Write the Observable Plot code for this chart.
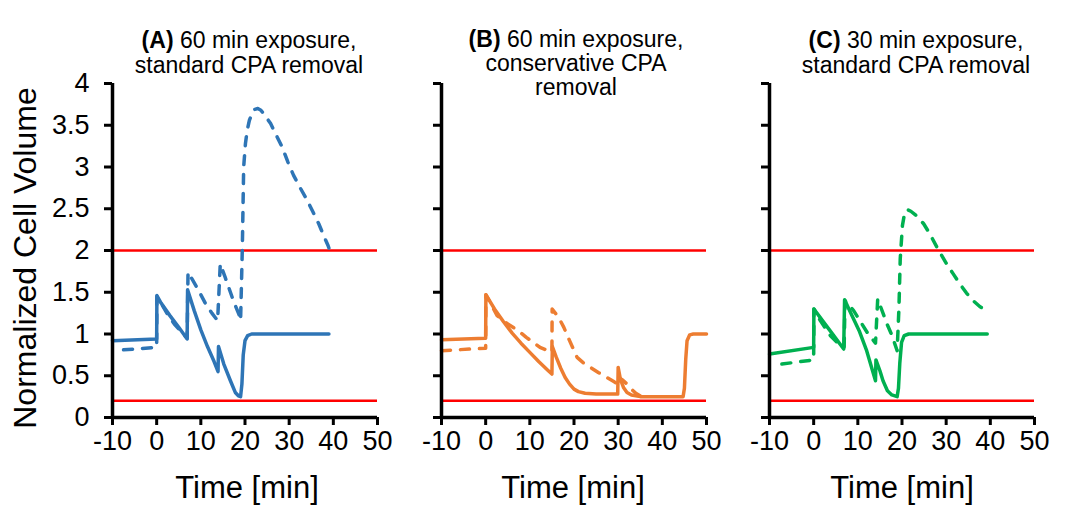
<!DOCTYPE html>
<html>
<head>
<meta charset="utf-8">
<script src="https://cdn.jsdelivr.net/npm/d3@7"></script>
<script src="https://cdn.jsdelivr.net/npm/@observablehq/plot@0.6"></script>
<style>
  html, body { margin: 0; padding: 0; background: #fff; }
  #wrap { position: relative; width: 1065px; height: 508px; overflow: hidden; font-family: "Liberation Sans", Arial, sans-serif; color: #000; }
  .panel { position: absolute; top: 0; }
  .title { position: absolute; width: 300px; text-align: center; font-size: 23px; line-height: 25px; white-space: nowrap; }
  .xlab { position: absolute; width: 240px; text-align: center; font-size: 31px; line-height: 36px; top: 470px; white-space: nowrap; }
  .ylab { position: absolute; width: 400px; height: 36px; line-height: 36px; font-size: 32px; text-align: center; left: -175px; top: 240px; transform: rotate(-90deg); white-space: nowrap; }
</style>
</head>
<body>
<div id="wrap"></div>
<script>
// ---- data ----
const xTicks = [-10, 0, 10, 20, 30, 40, 50];
const yTicks = [0, 0.5, 1, 1.5, 2, 2.5, 3, 3.5, 4];
const limitLines = [2, 0.2];

// Panel A: 60 min exposure, standard CPA removal  [time, normalized volume]
const aSolid = [[-10,0.92],[0,0.94],[0.05,1.46],[1,1.37],[3,1.22],[5,1.08],[6.9,0.94],[7.0,1.53],[8.5,1.28],[10,1.05],[11.5,0.85],[13,0.67],[13.9,0.55],[14.0,0.85],[15.2,0.64],[16.7,0.44],[17.8,0.30],[18.5,0.26],[19.0,0.25],[19.3,0.4],[19.6,0.75],[20,0.92],[20.6,0.98],[21.5,1.0],[39,1.0]];
const aDashed = [[-7.5,0.81],[0,0.84],[0.05,1.45],[1,1.37],[2.4,1.24],[4,1.12],[5.5,1.03],[6.9,0.95],[7.1,1.74],[8,1.66],[9.5,1.52],[11,1.37],[12.5,1.25],[13.8,1.16],[14.4,1.84],[15.5,1.68],[16.5,1.53],[17.5,1.38],[18.6,1.24],[19.0,1.16],[19.2,1.6],[19.4,2.04],[19.7,3.0],[20.1,3.28],[20.5,3.44],[21,3.56],[21.6,3.64],[22.2,3.69],[22.9,3.70],[23.6,3.68],[24.5,3.62],[25.8,3.52],[27,3.39],[28.4,3.24],[29.7,3.06],[31,2.90],[32.5,2.75],[34.1,2.60],[35.4,2.46],[36.7,2.32],[37.8,2.18],[38.8,2.06],[39.0,2.03]];

// Panel B: 60 min exposure, conservative CPA removal
const bSolid = [[-10,0.93],[0,0.95],[0.05,1.47],[2,1.30],[4,1.15],[6,1.01],[8,0.89],[10,0.78],[12,0.67],[14,0.57],[15,0.52],[15.1,0.85],[16,0.72],[17,0.59],[18,0.48],[19,0.40],[20,0.34],[21,0.31],[22.5,0.29],[25,0.28],[29.9,0.28],[30.0,0.60],[30.5,0.46],[31.2,0.36],[32,0.30],[33,0.27],[35,0.25],[44.7,0.25],[45,0.35],[45.3,0.7],[45.6,0.92],[46.2,0.99],[47,1.0],[50,1.0]];
const bDashed = [[-10,0.80],[0,0.83],[0.05,1.47],[1,1.38],[2.6,1.22],[5,1.12],[7.4,1.04],[9.2,0.96],[12.3,0.84],[14.5,0.79],[15,0.78],[15.05,1.30],[16.5,1.20],[17.7,1.08],[19,0.92],[20.7,0.72],[22,0.66],[23.7,0.60],[25.5,0.54],[27.4,0.48],[29,0.43],[30,0.40],[30.1,0.48],[31,0.45],[32,0.40],[33,0.34],[34,0.29],[35,0.26],[36,0.25]];

// Panel C: 30 min exposure, standard CPA removal
const cSolid = [[-10,0.76],[0,0.84],[0.05,1.30],[2,1.16],[4,1.02],[6.8,0.82],[7.0,1.41],[8.5,1.24],[10.3,1.04],[12,0.80],[14.0,0.44],[14.1,0.69],[15,0.56],[15.7,0.44],[16.7,0.32],[17.7,0.27],[18.9,0.25],[19.2,0.35],[19.5,0.65],[19.9,0.9],[20.5,0.98],[21.5,1.0],[39.3,1.0]];
const cDashed = [[-7.2,0.64],[0,0.69],[0.05,1.30],[1.5,1.16],[3.8,0.98],[5.5,0.89],[6.9,0.84],[7.1,1.40],[9.05,1.28],[12.1,1.02],[14.0,0.89],[14.5,1.42],[16.6,1.12],[17.75,0.98],[18.9,0.80],[19.3,1.3],[19.6,1.9],[20.1,2.3],[20.6,2.45],[21.2,2.49],[22,2.47],[23.4,2.41],[24.9,2.32],[26.4,2.19],[27.9,2.04],[30.1,1.84],[31.6,1.72],[33.1,1.60],[34.6,1.49],[36.1,1.40],[37.6,1.33],[39.1,1.28]];

const titles = [
  {bold: "(A)", lines: ["60 min exposure,", "standard CPA removal"]},
  {bold: "(B)", lines: ["60 min exposure,", "conservative CPA", "removal"]},
  {bold: "(C)", lines: ["30 min exposure,", "standard CPA removal"]}
];
const colors = ["#2E75B6", "#ED7D31", "#00B050"];
const xLabel = "Time [min]";
const yLabel = "Normalized Cell Volume";

// ---- layout ----
const wrap = document.getElementById("wrap");
const layout = [
  {left: 0,   width: 410, ml: 112, mr: 33, titleCx: 249, titleTop: 28, lh: 25, xlabCx: 247},
  {left: 410, width: 328, ml: 31,  mr: 32, titleCx: 576, titleTop: 27, lh: 24, xlabCx: 573},
  {left: 738, width: 327, ml: 31,  mr: 31, titleCx: 916, titleTop: 28, lh: 25, xlabCx: 902}
];
const series = [[aSolid, aDashed], [bSolid, bDashed], [cSolid, cDashed]];

series.forEach(([solid, dashed], i) => {
  const L = layout[i];
  const showLabels = i === 0;
  const chart = Plot.plot({
    width: L.width,
    height: 508,
    marginLeft: L.ml,
    marginRight: L.mr,
    marginTop: 83,
    marginBottom: 91,
    style: {fontFamily: "'Liberation Sans', Arial, sans-serif", background: "transparent", overflow: "visible", color: "#000"},
    x: {domain: [-10, 50]},
    y: {domain: [0, 4]},
    marks: [
      Plot.ruleY(limitLines, {stroke: "#FF0000", strokeWidth: 2.5}),
      Plot.line(solid, {x: d => d[0], y: d => d[1], stroke: colors[i], strokeWidth: 3.5, strokeLinejoin: "round", strokeLinecap: "round"}),
      Plot.line(dashed, {x: d => d[0], y: d => d[1], stroke: colors[i], strokeWidth: 3.5, strokeDasharray: "9,10", strokeLinejoin: "round", strokeLinecap: "round"}),
      Plot.axisY({ticks: yTicks, tickSize: 8, tickPadding: 15, strokeWidth: 3, fontSize: 27, label: null,
        tickFormat: showLabels ? (d => String(d)) : (() => "")}),
      Plot.axisX({ticks: xTicks, tickSize: 8, tickPadding: 5, strokeWidth: 3, fontSize: 27, label: null,
        tickFormat: d => String(d)}),
      Plot.ruleX([-10], {stroke: "#000", strokeWidth: 3.5}),
      Plot.ruleY([0], {stroke: "#000", strokeWidth: 3.5})
    ]
  });
  const div = document.createElement("div");
  div.className = "panel";
  div.style.left = L.left + "px";
  div.appendChild(chart);
  wrap.appendChild(div);

  const t = document.createElement("div");
  t.className = "title";
  t.style.left = (L.titleCx - 150) + "px";
  t.style.top = L.titleTop + "px";
  t.style.lineHeight = L.lh + "px";
  const T = titles[i];
  t.innerHTML = "<b>" + T.bold + "</b> " + T.lines.join("<br>");
  wrap.appendChild(t);

  const xl = document.createElement("div");
  xl.className = "xlab";
  xl.style.left = (L.xlabCx - 120) + "px";
  xl.textContent = xLabel;
  wrap.appendChild(xl);
});

const yl = document.createElement("div");
yl.className = "ylab";
yl.textContent = yLabel;
wrap.appendChild(yl);
</script>
</body>
</html>
